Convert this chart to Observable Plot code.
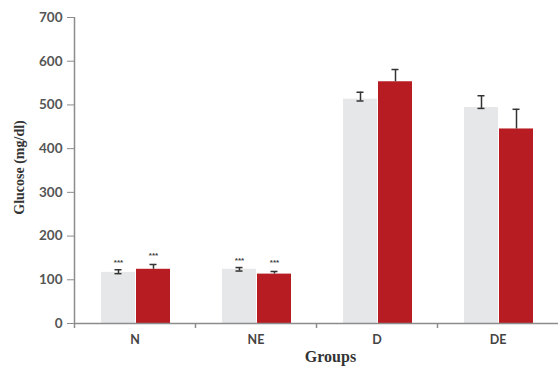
<!DOCTYPE html>
<html>
<head>
<meta charset="utf-8">
<script src="https://cdn.jsdelivr.net/npm/d3@7"></script>
<script src="https://cdn.jsdelivr.net/npm/@observablehq/plot@0.6"></script>
<style>
  html, body { margin: 0; padding: 0; background: #fff; }
  svg { overflow: visible; }
</style>
</head>
<body>
<div id="chart"></div>
<script>
const groups = ["N", "NE", "D", "DE"];
const grayValues = [117, 124, 513, 494];
const redValues = [124, 113, 553, 445];
const grayErrLow = [114, 120, 509, 492];
const grayErrHigh = [123, 128, 529, 521];
const redErrHigh = [135, 119, 581, 490];
const grayStars = ["***", "***", "", ""];
const redStars = ["***", "***", "", ""];
const yTicks = [0, 100, 200, 300, 400, 500, 600, 700];

const gray = groups.map((g, i) => ({group: g, value: grayValues[i], lo: grayErrLow[i], hi: grayErrHigh[i], star: grayStars[i]}));
const red = groups.map((g, i) => ({group: g, value: redValues[i], lo: redValues[i], hi: redErrHigh[i], star: redStars[i]}));

const grayFill = "#e6e7e8";
const redFill = "#b71c22";
const axisColor = "#8c8c8c";
const errColor = "#333333";

const chart = Plot.plot({
  width: 558,
  height: 372,
  marginLeft: 74,
  marginRight: 0,
  marginTop: 17,
  marginBottom: 49,
  style: {background: "#fff", overflow: "visible"},
  x: {domain: groups, padding: 0},
  y: {domain: [0, 700]},
  marks: [
    Plot.barY(gray, {x: "group", y: "value", fill: grayFill, insetLeft: 27, insetRight: 60}),
    Plot.barY(red, {x: "group", y: "value", fill: redFill, insetLeft: 62, insetRight: 25}),
    // error bars
    Plot.ruleX(gray, {x: "group", y1: "lo", y2: "hi", dx: -16.5, stroke: errColor, strokeWidth: 1.5}),
    Plot.tickY(gray, {x: "group", y: "hi", insetLeft: 40.5, insetRight: 73.5, stroke: errColor, strokeWidth: 1.5}),
    Plot.tickY(gray, {x: "group", y: "lo", insetLeft: 40.5, insetRight: 73.5, stroke: errColor, strokeWidth: 1.5}),
    Plot.ruleX(red, {x: "group", y1: "lo", y2: "hi", dx: 18.5, stroke: errColor, strokeWidth: 1.5}),
    Plot.tickY(red, {x: "group", y: "hi", insetLeft: 75.5, insetRight: 38.5, stroke: errColor, strokeWidth: 1.5}),
    // significance stars
    Plot.text(gray, {x: "group", y: "hi", text: "star", dx: -16.5, dy: -7, fontSize: 8, fill: "#444", fontFamily: "Liberation Sans", fontWeight: "bold"}),
    Plot.text(red, {x: "group", y: "hi", text: "star", dx: 18.5, dy: -9, fontSize: 8, fill: "#444", fontFamily: "Liberation Sans", fontWeight: "bold"}),
    // axes lines
    Plot.ruleY([0], {stroke: axisColor, strokeWidth: 1.5}),
    Plot.ruleX([groups[0]], {x: d => d, dx: -60.5, y1: 0, y2: 700, stroke: axisColor, strokeWidth: 1.5}),
    Plot.axisY({ticks: yTicks, tickSize: 7, tickPadding: 5, label: null, stroke: axisColor, fill: "#555", fontSize: 13.5, fontWeight: "bold", fontFamily: "Lato"}),
    Plot.axisX({tickSize: 5, text: null, dx: -60.5, label: null, stroke: axisColor, strokeWidth: 1.5}),
    Plot.axisX({tickSize: 0, tickPadding: 12, label: null, fill: "#444", fontSize: 12.5, fontWeight: "bold", fontFamily: "Lato"}),
    // axis titles
    Plot.text(["Glucose (mg/dl)"], {frameAnchor: "left", textAnchor: "middle", rotate: -90, dx: -55, dy: -3, text: d => d, fontSize: 14, fontWeight: "bold", fontFamily: "Liberation Serif", fill: "#333"}),
    Plot.text(["Groups"], {frameAnchor: "bottom", dx: 14, dy: 38, text: d => d, fontSize: 16, fontWeight: "bold", fontFamily: "Liberation Serif", fill: "#333"})
  ]
});
document.getElementById("chart").appendChild(chart);
</script>
</body>
</html>
